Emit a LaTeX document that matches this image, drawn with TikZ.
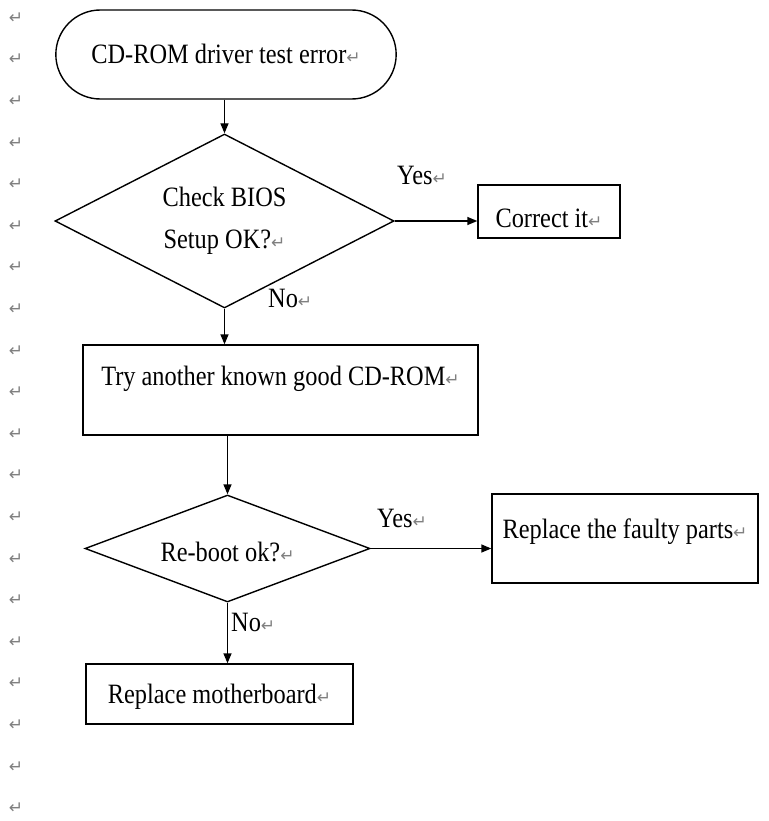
\documentclass[tikz,border=0pt]{standalone}
\usepackage{fontspec}
\setmainfont{Liberation Serif}[FakeStretch=0.87]
\newfontfamily\retfont{DejaVu Sans}
\usetikzlibrary{shapes.geometric,shapes.misc,arrows.meta}
\newcommand{\ret}{{\retfont\fontsize{17}{17}\selectfont\color{gray}↵}}

\begin{document}
\begin{tikzpicture}[x=1pt, y=-1pt,
    every node/.style={font=\fontsize{28}{42.5}\selectfont},
    box/.style={draw, line width=1.4pt, rectangle, text height=20pt},
    term/.style={draw, line width=1.4pt, rounded rectangle, text height=20pt},
    decide/.style={draw, line width=1.4pt, diamond, inner sep=0pt, align=center},
    lbl/.style={anchor=west, inner sep=0pt, text height=20pt, text depth=1pt},
    pmk/.style={inner sep=0pt, font=\retfont\fontsize{17}{17}\selectfont, text=gray},
    arr/.style={-{Triangle[length=10pt,width=8pt]}, line width=1.4pt}]

    \useasboundingbox (0,0) rectangle (768,821);

    \foreach \i in {0,...,19}
        \node [pmk] (pm\i) at (16, {18+41.6*\i}) {↵};

    \node [term, minimum width=347pt, minimum height=89pt, text depth=1pt]
        (start) at (226,54.5) {CD-ROM driver test error\ret};
    \node [decide, shape aspect=1.95, minimum width=339pt, minimum height=174pt]
        (bios) at (224.5,221) {Check BIOS\\Setup OK?\ret};
    \node [box, minimum width=142pt, minimum height=53pt, text height=38pt, text depth=6pt]
        (fix) at (549,211.5) {Correct it\ret};
    \node [box, minimum width=395pt, minimum height=90pt, text depth=29pt]
        (try) at (280.5,390) {Try another known good CD-ROM\ret};
    \node [decide, shape aspect=2.66, minimum width=285pt, minimum height=107pt,
        text height=26pt, text depth=1pt]
        (reboot) at (227.5,548.5) {Re-boot ok?\ret};
    \node [box, minimum width=266pt, minimum height=89pt, text depth=20pt]
        (parts) at (625,538.5) {Replace the faulty parts\ret};
    \node [box, minimum width=267pt, minimum height=60pt, text depth=1pt]
        (board) at (219.5,694) {Replace motherboard\ret};

    \node [lbl] (yes1) at (397,175) {Yes\ret};
    \node [lbl] (no1) at (268,298) {No\ret};
    \node [lbl] (yes2) at (377,518) {Yes\ret};
    \node [lbl] (no2) at (231,622) {No\ret};

    \draw [arr] (bios.north |- start.south) -- (bios.north);
    \draw [arr] (bios.east) -- (bios.east -| fix.west);
    \draw [arr] (bios.south) -- (bios.south |- try.north);
    \draw [arr] (reboot.north |- try.south) -- (reboot.north);
    \draw [arr] (reboot.east) -- (reboot.east -| parts.west);
    \draw [arr] (reboot.south) -- (reboot.south |- board.north);
\end{tikzpicture}
\end{document}
